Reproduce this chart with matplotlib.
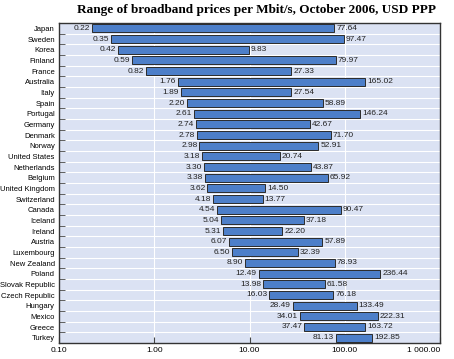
import numpy as np
import matplotlib.pyplot as plt
from matplotlib.ticker import FixedLocator, NullFormatter

countries = ["Japan", "Sweden", "Korea", "Finland", "France", "Australia", "Italy",
             "Spain", "Portugal", "Germany", "Denmark", "Norway", "United States",
             "Netherlands", "Belgium", "United Kingdom", "Switzerland", "Canada",
             "Iceland", "Ireland", "Austria", "Luxembourg", "New Zealand", "Poland",
             "Slovak Republic", "Czech Republic", "Hungary", "Mexico", "Greece", "Turkey"]
low = [0.22, 0.35, 0.42, 0.59, 0.82, 1.76, 1.89, 2.20, 2.61, 2.74, 2.78, 2.98, 3.18,
       3.30, 3.38, 3.62, 4.18, 4.54, 5.04, 5.31, 6.07, 6.50, 8.90, 12.49, 13.98, 16.03,
       28.49, 34.01, 37.47, 81.13]
high = [77.64, 97.47, 9.83, 79.97, 27.33, 165.02, 27.54, 58.89, 146.24, 42.67, 71.70,
        52.91, 20.74, 43.87, 65.92, 14.50, 13.77, 90.47, 37.18, 22.20, 57.89, 32.39,
        78.93, 236.44, 61.58, 76.18, 133.49, 222.31, 163.72, 192.85]
xticks = [0.1, 1, 10, 100, 1000]
xlabels = ["0.10", "1.00", "10.00", "100.00", "1 000.00"]

plt.rcParams['font.family'] = ['Liberation Sans', 'DejaVu Sans']

fig = plt.figure(figsize=(4.54, 3.59), dpi=100)
ax = fig.add_axes([59/454, 1-343/359, 381/454, 320/359])
ax.set_facecolor('#dbe2f3')

y = np.arange(len(countries))
lo = np.array(low)
hi = np.array(high)
ax.barh(y, hi - lo, left=lo, height=0.72, color='#4d7fc9', edgecolor='#2b2b2b', linewidth=0.7, zorder=3)

for i in range(len(countries)):
    ax.text(lo[i] / 1.05, y[i], "%.2f" % low[i], ha='right', va='center', fontsize=6, color='#222222', zorder=4)
    ax.text(hi[i] * 1.05, y[i], "%.2f" % high[i], ha='left', va='center', fontsize=6, color='#222222', zorder=4)

ax.set_xscale('log')
ax.set_xlim(0.1, 1000)
ax.set_ylim(len(countries) - 0.5, -0.5)
ax.set_xticks(xticks)
ax.set_xticklabels(xlabels, fontsize=6)
ax.get_xticklabels()[-1].set_horizontalalignment('right')
ax.xaxis.set_minor_locator(FixedLocator([]))
ax.set_yticks(y)
ax.set_yticklabels(countries, fontsize=5.5)
ax.yaxis.set_minor_locator(FixedLocator(y + 0.5))
ax.yaxis.set_minor_formatter(NullFormatter())
ax.tick_params(axis='y', which='major', length=0, pad=3)
ax.tick_params(axis='y', which='minor', direction='in', length=4, color='#444444')
ax.tick_params(axis='x', which='major', direction='in', length=4, color='#444444', pad=3)

for b in y[:-1] + 0.5:
    ax.axhline(b, color='white', linewidth=0.8, zorder=1)
for t in xticks[1:-1]:
    ax.axvline(t, color='white', linewidth=0.8, zorder=1)

for s in ax.spines.values():
    s.set_color('#333333')
    s.set_linewidth(1.0)

fig.text(0.565, 0.972, "Range of broadband prices per Mbit/s, October 2006, USD PPP",
         ha='center', va='center', fontsize=9.5, fontweight='bold', family='Liberation Serif')

fig.savefig("out.png", dpi=100)
